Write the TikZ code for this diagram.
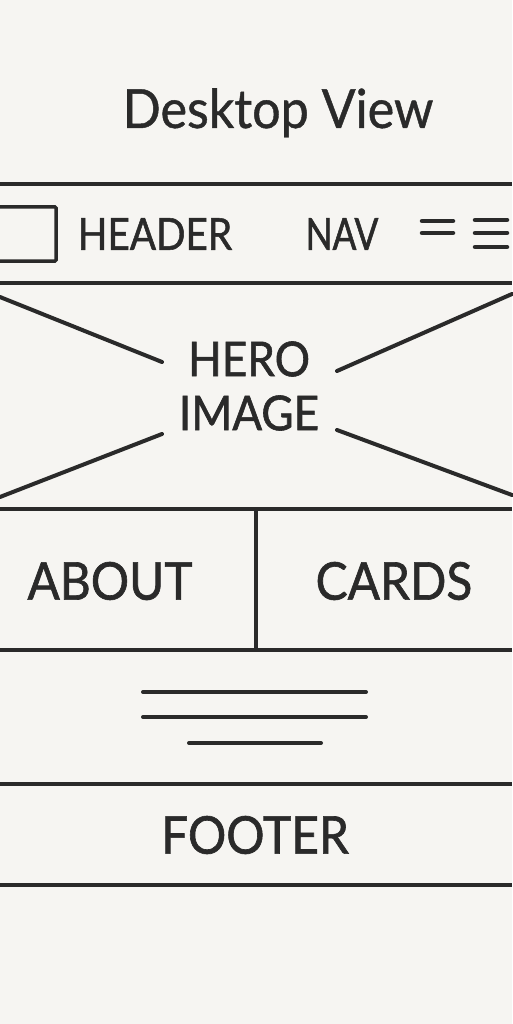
\documentclass[tikz,border=0pt]{standalone}
\usepackage{fontspec}
\setmainfont{Lato}
\newfontfamily\labfont{Lato}[FakeBold=1.2,FakeStretch=0.92]
\newfontfamily\hdrfont{Lato}[FakeBold=1.2,FakeStretch=0.88]
\newfontfamily\navfont{Lato}[FakeBold=1.2,FakeStretch=0.8]
\newfontfamily\ttlfont{Lato}[FakeBold=0.8,FakeStretch=0.93]
\definecolor{paper}{HTML}{F6F5F2}
\definecolor{ink}{HTML}{2A2A2A}
\begin{document}
\begin{tikzpicture}[x=1pt,y=-1pt,
  rule/.style={draw=ink,line width=3.5pt},
  thin/.style={draw=ink,line width=4.5pt,line cap=round},
  diag/.style={draw=ink,line width=4pt,line cap=round},
  lbl/.style={text=ink,inner sep=0pt,font=\labfont\fontsize{52}{52}\selectfont},
  herolbl/.style={text=ink,inner sep=0pt,font=\labfont\fontsize{48}{48}\selectfont},
  hdrlbl/.style={text=ink,inner sep=0pt,font=\hdrfont\fontsize{44}{44}\selectfont},
  navlbl/.style={text=ink,inner sep=0pt,font=\navfont\fontsize{44}{44}\selectfont},
  title/.style={text=ink,inner sep=0pt,font=\ttlfont\fontsize{54}{54}\selectfont}]
\fill[paper] (0,0) rectangle (512,1024);
\useasboundingbox (0,0) rectangle (512,1024);
% title
\node[title,anchor=base] (t) at (278,128) {Desktop View};
% header
\draw[rule] (0,184) -- (512,184);
\draw[rule] (0,283) -- (512,283);
\draw[draw=ink,line width=3.5pt,rounded corners=1pt] (-2,207) rectangle (56,261);
\node[hdrlbl] (hdr) at (155,234) {HEADER};
\node[navlbl] (nav) at (342,234) {NAV};
\draw[thin] (422,221) -- (453,221);
\draw[thin] (422,233) -- (453,233);
\draw[thin] (475,220) -- (507,220);
\draw[thin] (475,233) -- (507,233);
\draw[thin] (475,247) -- (507,247);
% hero
\node[herolbl] (hero) at (249,359) {HERO};
\node[herolbl] (img) at (249,413) {IMAGE};
\draw[diag] (0,297) -- (162,362);
\draw[diag] (337,371) -- (512,294);
\draw[diag] (0,497) -- (162,434);
\draw[diag] (337,430) -- (512,495);
\draw[rule] (0,509) -- (512,509);
% about / cards
\draw[rule] (256,509) -- (256,650);
\node[lbl] (about) at (110,581) {ABOUT};
\node[lbl] (cards) at (394,581) {CARDS};
\draw[rule] (0,650) -- (512,650);
% text lines
\draw[diag] (143,692) -- (366,692);
\draw[diag] (143,717) -- (366,717);
\draw[diag] (189,743) -- (321,743);
\draw[rule] (0,784) -- (512,784);
% footer
\node[lbl] (foot) at (255,835) {FOOTER};
\draw[rule] (0,885) -- (512,885);
\end{tikzpicture}
\end{document}
